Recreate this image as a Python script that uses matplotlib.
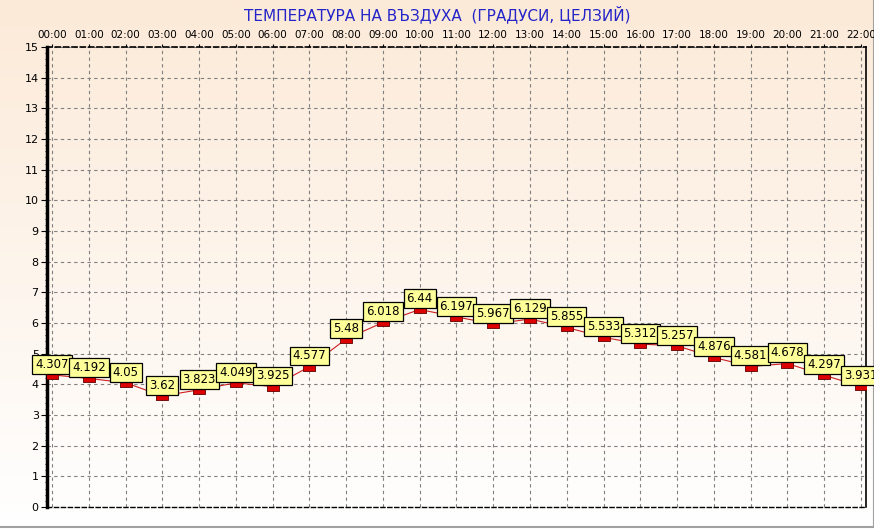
import numpy as np
import matplotlib
matplotlib.use('Agg')
import matplotlib.pyplot as plt
from matplotlib.ticker import MultipleLocator

hours = ['00:00', '01:00', '02:00', '03:00', '04:00', '05:00', '06:00', '07:00',
         '08:00', '09:00', '10:00', '11:00', '12:00', '13:00', '14:00', '15:00',
         '16:00', '17:00', '18:00', '19:00', '20:00', '21:00', '22:00']
temps = [4.307, 4.192, 4.05, 3.62, 3.823, 4.049, 3.925, 4.577, 5.48, 6.018, 6.44,
         6.197, 5.967, 6.129, 5.855, 5.533, 5.312, 5.257, 4.876, 4.581, 4.678,
         4.297, 3.931]
labels = ['4.307', '4.192', '4.05', '3.62', '3.823', '4.049', '3.925', '4.577',
          '5.48', '6.018', '6.44', '6.197', '5.967', '6.129', '5.855', '5.533',
          '5.312', '5.257', '4.876', '4.581', '4.678', '4.297', '3.931']

plt.rcParams['font.family'] = ['DejaVu Sans']

fig = plt.figure(figsize=(8.74, 5.29), dpi=100)

# background gradient (peach at top -> white at bottom)
bg = fig.add_axes([0, 0, 1, 1], zorder=-10)
top = np.array([252, 234, 216]) / 255
bot = np.array([255, 255, 255]) / 255
t = np.linspace(0, 1, 256)[:, None]
grad = top * (1 - t) + bot * t
bg.imshow(grad[:, None, :], aspect='auto', extent=[0, 1, 0, 1])
bg.set_xlim(0, 1)
bg.set_ylim(0, 1)
bg.axis('off')
bg.plot([0, 1, 1], [0.004, 0.004, 1], color='#a0a0a0', lw=1.5)

ax = fig.add_axes([0.0538, 0.0416, 0.937, 0.8696])
ax.set_facecolor('none')
x = np.arange(len(hours))
ax.plot(x, temps, color='#cc2020', lw=0.8, zorder=3)
rect = [(-1, -0.6), (1, -0.6), (1, 0.6), (-1, 0.6), (-1, -0.6)]
ax.plot(x, temps, ls='none', marker=rect, ms=9, mfc='#dd0000', mec='#600000',
        mew=0.6, zorder=4)
for xi, yi, lab in zip(x, temps, labels):
    ax.annotate(lab, (xi, yi), xytext=(0, 3), textcoords='offset points',
                ha='center', va='bottom', fontsize=8.5, zorder=5,
                annotation_clip=False,
                bbox=dict(boxstyle='square,pad=0.25', fc='#ffff99', ec='black', lw=0.9))

ax.set_xlim(-0.14, 22.14)
ax.set_ylim(0, 15)
ax.set_xticks(x)
ax.set_xticklabels(hours)
ax.yaxis.set_major_locator(MultipleLocator(1))
ax.yaxis.set_minor_locator(MultipleLocator(0.2))
ax.xaxis.tick_top()
ax.tick_params(axis='x', labelsize=7.5, length=2, pad=3)
ax.tick_params(axis='y', which='major', labelsize=8, length=4, pad=2)
ax.tick_params(axis='y', which='minor', length=1.5, width=0.6)
ax.grid(True, ls=(0, (3, 3)), color='#808080', lw=0.8)

ax.spines['left'].set_linewidth(2.5)
ax.spines['right'].set_linewidth(1.2)
ax.spines['top'].set_linestyle((0, (3, 2)))
ax.spines['bottom'].set_linestyle((0, (3, 2)))
ax.spines['top'].set_linewidth(1.2)
ax.spines['bottom'].set_linewidth(1)

fig.text(0.5, 0.973, 'ТЕМПЕРАТУРА НА ВЪЗДУХА  (ГРАДУСИ, ЦЕЛЗИЙ)', ha='center',
         va='center', color='#2424c8', fontsize=11)

fig.savefig('out.png', dpi=100)
